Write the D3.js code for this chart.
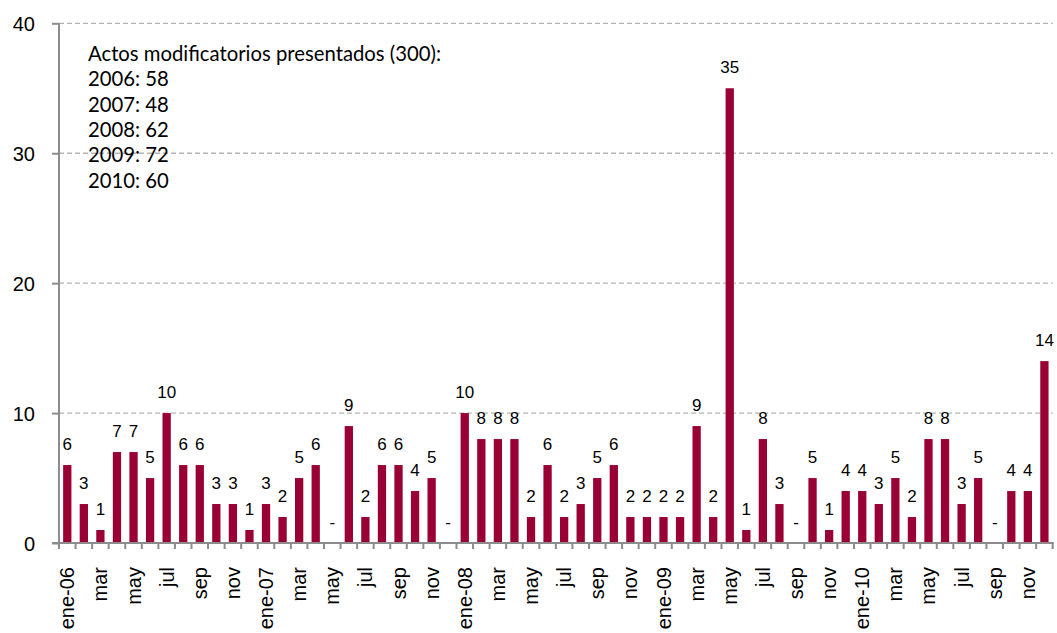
<html>
<head>
<meta charset="utf-8">
<script src="https://d3js.org/d3.v7.min.js"></script>
<style>
  body { margin: 0; background: #fff; }
  text { font-family: "Liberation Sans", Arial, sans-serif; fill: #000; }
</style>
</head>
<body>
<svg id="chart" width="1057" height="633"></svg>
<script>
// months (x categories), ticks labelled every other month
const months = [
  "ene-06","feb","mar","abr","may","jun","jul","ago","sep","oct","nov","dic",
  "ene-07","feb","mar","abr","may","jun","jul","ago","sep","oct","nov","dic",
  "ene-08","feb","mar","abr","may","jun","jul","ago","sep","oct","nov","dic",
  "ene-09","feb","mar","abr","may","jun","jul","ago","sep","oct","nov","dic",
  "ene-10","feb","mar","abr","may","jun","jul","ago","sep","oct","nov","dic"
];

// actos modificatorios presentados por mes
const values2006 = [6, 3, 1, 7, 7, 5, 10, 6, 6, 3, 3, 1];
const values2007 = [3, 2, 5, 6, 0, 9, 2, 6, 6, 4, 5, 0];
const values2008 = [10, 8, 8, 8, 2, 6, 2, 3, 5, 6, 2, 2];
const values2009 = [2, 2, 9, 2, 35, 1, 8, 3, 0, 5, 1, 4];
const values2010 = [4, 3, 5, 2, 8, 8, 3, 5, 0, 4, 4, 14];

const yTicks = [0, 10, 20, 30, 40];

const noteLines = [
  "Actos modificatorios presentados (300):",
  "2006: 58",
  "2007: 48",
  "2008: 62",
  "2009: 72",
  "2010: 60"
];

const values = values2006.concat(values2007, values2008, values2009, values2010);
const data = months.map((m, i) => ({ key: i, label: m, value: values[i] }));

var svg = d3.select("#chart");
var plotLeft = 59, plotRight = 1052.7, plotTop = 23.3, plotBottom = 543;
var barColor = "#990033";
var axisColor = "#8c8c8c";
var sansFont = "'Liberation Sans', Arial, sans-serif";

var x = d3.scaleBand()
  .domain(data.map(d => d.key))
  .range([plotLeft, plotRight])
  .paddingInner(0.5)
  .paddingOuter(0.25);
var step = x.step();

var y = d3.scaleLinear().domain([0, 40]).range([plotBottom, plotTop]);

// gridlines
svg.append("g")
  .selectAll("line")
  .data(yTicks.filter(t => t > 0))
  .enter()
  .append("line")
  .attr("x1", plotLeft)
  .attr("x2", plotRight)
  .attr("y1", d => y(d))
  .attr("y2", d => y(d))
  .attr("stroke", "#b4b4b4")
  .attr("stroke-width", 1.3)
  .attr("stroke-dasharray", "5,3");

// bars
svg.append("g")
  .selectAll("rect")
  .data(data)
  .enter()
  .append("rect")
  .attr("x", d => x(d.key))
  .attr("y", d => y(d.value))
  .attr("width", x.bandwidth())
  .attr("height", d => y(0) - y(d.value))
  .attr("fill", barColor);

// value labels
svg.append("g")
  .selectAll("text")
  .data(data)
  .enter()
  .append("text")
  .attr("x", d => x(d.key) + x.bandwidth() / 2)
  .attr("y", d => y(d.value) - 15)
  .attr("text-anchor", "middle")
  .style("font-family", sansFont)
  .style("font-size", "17px")
  .text(d => d.value === 0 ? "-" : d.value);

// y axis
var yAxis = svg.append("g")
  .attr("transform", "translate(" + plotLeft + ",0)")
  .call(d3.axisLeft(y).tickValues(yTicks).tickSize(7).tickPadding(17));
yAxis.select(".domain").remove();
yAxis.selectAll(".tick line").attr("stroke", axisColor).attr("stroke-width", 2);
yAxis.selectAll(".tick text")
  .style("font-size", "20px")
  .style("font-family", sansFont)
  .attr("fill", "#000")
  .attr("dy", "0.38em");
yAxis.append("line")
  .attr("x1", 0).attr("x2", 0)
  .attr("y1", plotTop).attr("y2", plotBottom + 6)
  .attr("stroke", axisColor)
  .attr("stroke-width", 2);

// x axis
var xAxis = svg.append("g");
xAxis.append("line")
  .attr("x1", plotLeft - 7).attr("x2", plotRight + 1)
  .attr("y1", plotBottom).attr("y2", plotBottom)
  .attr("stroke", axisColor)
  .attr("stroke-width", 2);
xAxis.selectAll("line.tk")
  .data(d3.range(months.length + 1))
  .enter()
  .append("line")
  .attr("class", "tk")
  .attr("x1", i => plotLeft + i * step)
  .attr("x2", i => plotLeft + i * step)
  .attr("y1", plotBottom)
  .attr("y2", plotBottom + 6)
  .attr("stroke", axisColor)
  .attr("stroke-width", 2);
xAxis.selectAll("text")
  .data(data.filter((d, i) => i % 2 === 0))
  .enter()
  .append("text")
  .attr("transform", d => "translate(" + (x(d.key) + x.bandwidth() / 2) + "," + (plotBottom + 24) + ") rotate(-90)")
  .attr("text-anchor", "end")
  .attr("dy", "0.35em")
  .style("font-family", sansFont)
  .style("font-size", "20px")
  .text(d => d.label);

// note
svg.append("g")
  .selectAll("text")
  .data(noteLines)
  .enter()
  .append("text")
  .attr("x", 88)
  .attr("y", (d, i) => 61 + i * 25.3)
  .style("font-family", "Lato, 'Open Sans', sans-serif")
  .style("font-size", "20.3px")
  .text(d => d);
</script>
</body>
</html>
